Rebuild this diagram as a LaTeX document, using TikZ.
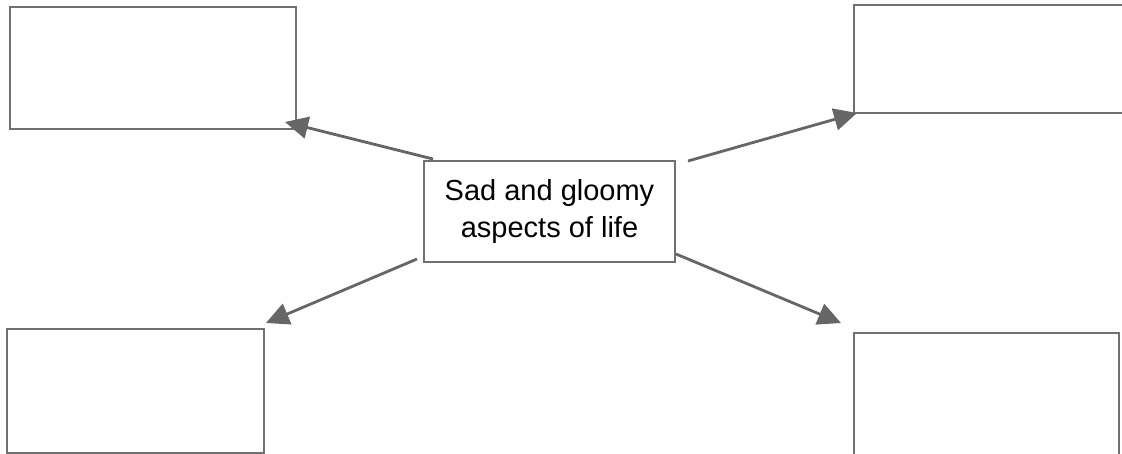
\documentclass[tikz,border=0pt]{standalone}
\usepackage{fontspec}
\setmainfont{Liberation Sans}
\usetikzlibrary{arrows.meta}
\definecolor{linegray}{HTML}{666666}
\definecolor{boxgray}{HTML}{707070}
\tikzset{
  emptybox/.style={draw=boxgray, line width=2pt, anchor=north west, inner sep=0pt, fill=white},
  conn/.style={draw=linegray, line width=2.8pt, -{Triangle[length=23pt,width=22pt]}},
}
\begin{document}
\begin{tikzpicture}[x=1pt,y=-1pt]
\useasboundingbox (0,0) rectangle (1122,453);
% boxes
\node[emptybox, minimum width=286pt, minimum height=122pt] (tl) at (9,6) {};
\node[emptybox, minimum width=280pt, minimum height=108pt] (tr) at (853,4) {};
\node[emptybox, minimum width=257pt, minimum height=124pt] (bl) at (6,328) {};
\node[emptybox, minimum width=265pt, minimum height=130pt] (br) at (853,332) {};
\node[emptybox, minimum width=251pt, minimum height=101pt, align=center,
      font=\fontsize{29pt}{37pt}\selectfont] (c) at (423,160) {Sad and gloomy\\aspects of life};
% arrow start points
\coordinate (s1) at (433,159);
\coordinate (s2) at (688,161);
\coordinate (s3) at (417,259);
\coordinate (s4) at (676,254);
% arrow tips
\coordinate (t1) at (285,122);
\coordinate (t2) at (857,113);
\coordinate (t3) at (266,323);
\coordinate (t4) at (841,323);
\draw[conn] (s1) -- (t1);
\draw[conn] (s2) -- (t2);
\draw[conn] (s3) -- (t3);
\draw[conn] (s4) -- (t4);
\end{tikzpicture}
\end{document}
